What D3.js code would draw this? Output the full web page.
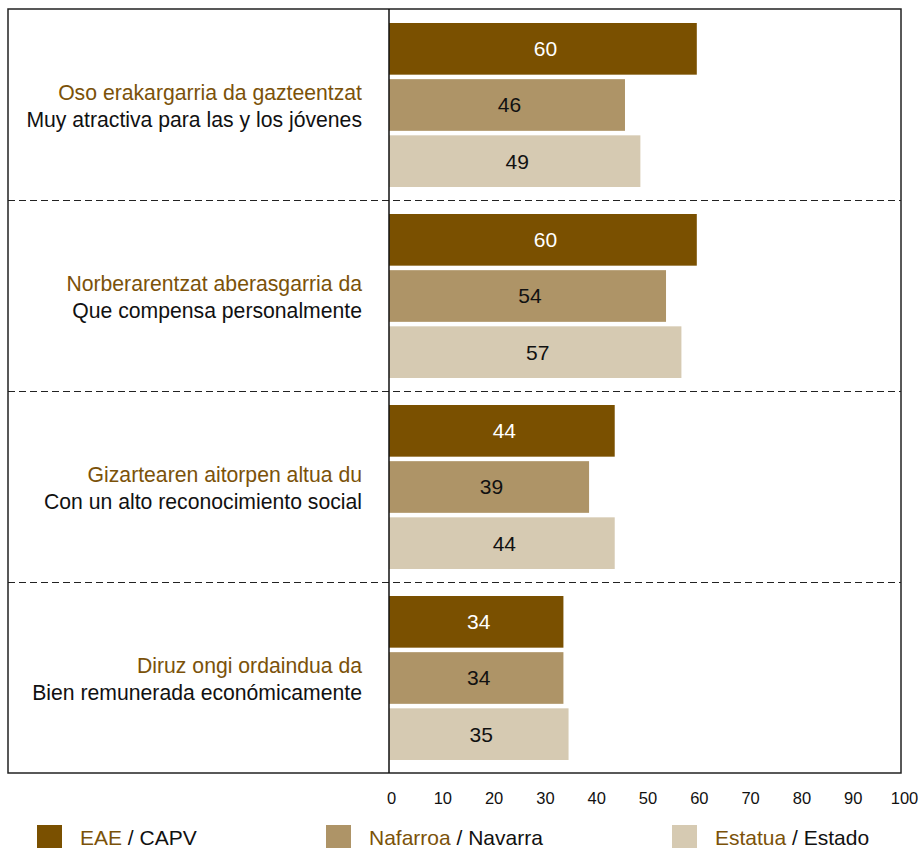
<!DOCTYPE html>
<html>
<head>
<meta charset="utf-8">
<script src="https://cdn.jsdelivr.net/npm/d3@7/dist/d3.min.js"></script>
<style>
  html, body { margin: 0; padding: 0; background: #fff; }
  svg { display: block; font-family: "Liberation Sans", Arial, Helvetica, sans-serif; }
</style>
</head>
<body>
<svg id="chart" width="919" height="848"></svg>
<script>
// Category labels (Basque / Spanish)
const categoriesEu = [
  "Oso erakargarria da gazteentzat",
  "Norberarentzat aberasgarria da",
  "Gizartearen aitorpen altua du",
  "Diruz ongi ordaindua da"
];
const categoriesEs = [
  "Muy atractiva para las y los jóvenes",
  "Que compensa personalmente",
  "Con un alto reconocimiento social",
  "Bien remunerada económicamente"
];

// Series
const seriesEu = ["EAE", "Nafarroa", "Estatua"];
const seriesEs = ["CAPV", "Navarra", "Estado"];
const valuesEAE = [60, 60, 44, 34];
const valuesNafarroa = [46, 54, 39, 34];
const valuesEstatua = [49, 57, 44, 35];
const seriesValues = [valuesEAE, valuesNafarroa, valuesEstatua];

const tickValues = [0, 10, 20, 30, 40, 50, 60, 70, 80, 90, 100];

const colors = ["#7a5000", "#ae9467", "#d6cab2"];
const valueTextColors = ["#ffffff", "#111111", "#111111"];
const euColor = "#7b5209";

const svg = d3.select("#chart");

const frame = { left: 8, right: 901, top: 9, bottom: 773 };
const axisX = 389;

const x = d3.scaleLinear().domain([0, 100]).range([axisX, 902]);

const yGroup = d3.scaleBand()
  .domain(d3.range(categoriesEu.length))
  .range([frame.top, frame.bottom])
  .padding(0);

const yInner = d3.scaleBand()
  .domain(d3.range(seriesEu.length))
  .range([14, yGroup.bandwidth() - 13])
  .paddingInner(0.08)
  .paddingOuter(0);

// Bars
const groups = svg.append("g")
  .selectAll("g")
  .data(categoriesEu.map((c, i) => i))
  .join("g")
  .attr("transform", i => `translate(0,${yGroup(i)})`);

groups.selectAll("rect")
  .data(i => seriesValues.map((vals, s) => ({ s, v: vals[i] })))
  .join("rect")
  .attr("x", x(0))
  .attr("y", d => yInner(d.s))
  .attr("width", d => x(d.v) - x(0))
  .attr("height", yInner.bandwidth())
  .attr("fill", d => colors[d.s]);

groups.selectAll("text.val")
  .data(i => seriesValues.map((vals, s) => ({ s, v: vals[i] })))
  .join("text")
  .attr("class", "val")
  .attr("x", d => (x(0) + x(d.v)) / 2 + 2.5)
  .attr("y", d => yInner(d.s) + yInner.bandwidth() / 2)
  .attr("dy", "0.35em")
  .attr("text-anchor", "middle")
  .attr("font-size", 21)
  .attr("fill", d => valueTextColors[d.s])
  .text(d => d.v);

// Category labels
groups.append("text")
  .attr("x", 362)
  .attr("y", yGroup.bandwidth() / 2 - 5)
  .attr("text-anchor", "end")
  .attr("font-size", 21.2)
  .attr("fill", euColor)
  .text(i => categoriesEu[i]);

groups.append("text")
  .attr("x", 362)
  .attr("y", yGroup.bandwidth() / 2 + 22)
  .attr("text-anchor", "end")
  .attr("font-size", 21.2)
  .attr("fill", "#111")
  .text(i => categoriesEs[i]);

// Dashed separators between groups
svg.append("g")
  .selectAll("line")
  .data(d3.range(1, categoriesEu.length))
  .join("line")
  .attr("x1", frame.left)
  .attr("x2", frame.right)
  .attr("y1", i => yGroup(i) + 0.5)
  .attr("y2", i => yGroup(i) + 0.5)
  .attr("stroke", "#222")
  .attr("stroke-width", 1.2)
  .attr("stroke-dasharray", "7,4");

// Frame and zero line
svg.append("rect")
  .attr("x", frame.left)
  .attr("y", frame.top)
  .attr("width", frame.right - frame.left)
  .attr("height", frame.bottom - frame.top)
  .attr("fill", "none")
  .attr("stroke", "#222")
  .attr("stroke-width", 1.5);

svg.append("line")
  .attr("x1", axisX).attr("x2", axisX)
  .attr("y1", frame.top).attr("y2", frame.bottom)
  .attr("stroke", "#111")
  .attr("stroke-width", 1.5);

// X axis labels
const xAxis = svg.append("g")
  .attr("transform", `translate(2,${frame.bottom + 15})`)
  .call(d3.axisBottom(x).tickValues(tickValues).tickSize(0).tickPadding(4));
xAxis.select(".domain").remove();
xAxis.selectAll("text")
  .attr("font-family", "Liberation Sans, Arial, sans-serif")
  .attr("font-size", 16.5)
  .attr("fill", "#111");

// Legend
const legendX = [37, 326, 672];
const legend = svg.append("g")
  .selectAll("g")
  .data(d3.range(seriesEu.length))
  .join("g")
  .attr("transform", i => `translate(${legendX[i]},825)`);

legend.append("rect")
  .attr("width", 25)
  .attr("height", 25)
  .attr("fill", i => colors[i]);

const legendText = legend.append("text")
  .attr("x", 43)
  .attr("y", 20)
  .attr("font-size", 21);
legendText.append("tspan").attr("fill", euColor).text(i => seriesEu[i]);
legendText.append("tspan").attr("fill", "#111").text(i => " / " + seriesEs[i]);
</script>
</body>
</html>
